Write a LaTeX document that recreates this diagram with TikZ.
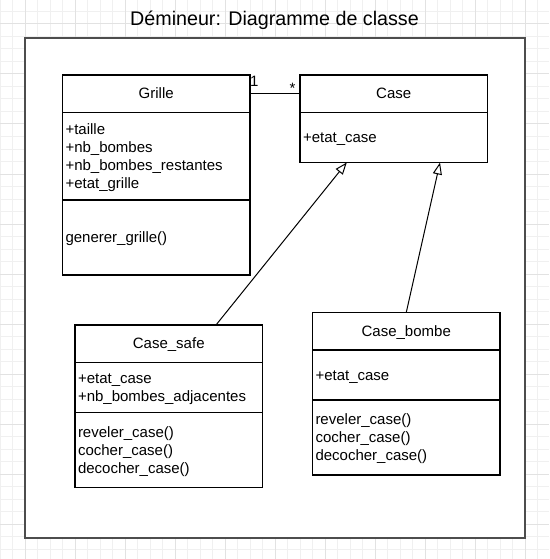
\documentclass[tikz,border=0pt]{standalone}
\usepackage{fontspec}
\setmainfont{Liberation Sans}
\usetikzlibrary{arrows.meta, calc, positioning}

\definecolor{gridminor}{HTML}{F0F0F0}
\definecolor{gridmajor}{HTML}{E2E2E2}
\definecolor{framegray}{HTML}{4D4D4D}

\newcommand{\linestrut}{\rule[-3.8pt]{0pt}{18pt}}

\tikzset{
    classbox/.style={draw, line width=1.2pt, fill=white, rectangle,
        minimum width=187.5pt, inner xsep=3pt, inner ysep=0pt, outer sep=0pt,
        text width=181.5pt, font=\fontsize{15}{18}\selectfont,
        execute at begin node=\linestrut, execute at end node=\linestrut},
    classhead/.style={classbox, align=center, minimum height=37.5pt},
    classpart/.style={classbox, align=left},
    inherit/.style={line width=1pt, -{Triangle[open, length=12pt, width=9pt, fill=white]}}
}

\begin{document}
\begin{tikzpicture}[x=1pt, y=-1pt]
    \useasboundingbox (0,0) rectangle (549,559);

    % Grid
    \foreach \x in {0,12.5,...,550}
        \draw[gridminor, line width=1pt] (\x,0) -- (\x,559);
    \foreach \y in {-1,11.5,...,560}
        \draw[gridminor, line width=1pt] (0,\y) -- (549,\y);
    \foreach \x in {25,75,...,525}
        \draw[gridmajor, line width=1pt] (\x,0) -- (\x,559);
    \foreach \y in {24,74,...,524}
        \draw[gridmajor, line width=1pt] (0,\y) -- (549,\y);

    % Frame and title
    \draw[framegray, fill=white, line width=2pt] (25,38) rectangle (525,538);
    \node[anchor=base, inner sep=0pt, font=\fontsize{19.7}{23}\selectfont] (title) at (274.5,25.5) {Démineur: Diagramme de classe};

    % Grille
    \node[classhead, anchor=north west] (grille) at (62.5,75) {Grille};
    \node[classpart, minimum height=87.5pt, below=0pt of grille] (grille attr) {+taille\\+nb\_bombes\\+nb\_bombes\_restantes\\+etat\_grille};
    \node[classpart, minimum height=75pt, below=0pt of grille attr] (grille meth) {generer\_grille()};

    % Case
    \node[classhead, anchor=north west] (case) at (300,75) {Case};
    \node[classpart, minimum height=50pt, below=0pt of case] (case attr) {+etat\_case};

    % Case_safe
    \node[classhead, anchor=north west] (safe) at (75,325) {Case\_safe};
    \node[classpart, minimum height=50pt, below=0pt of safe] (safe attr) {+etat\_case\\+nb\_bombes\_adjacentes};
    \node[classpart, minimum height=75pt, below=0pt of safe attr] (safe meth) {reveler\_case()\\cocher\_case()\\decocher\_case()};

    % Case_bombe
    \node[classhead, anchor=north west] (bombe) at (312.5,312.5) {Case\_bombe};
    \node[classpart, minimum height=50pt, below=0pt of bombe] (bombe attr) {+etat\_case};
    \node[classpart, minimum height=75pt, below=0pt of bombe attr] (bombe meth) {reveler\_case()\\cocher\_case()\\decocher\_case()};

    % Association
    \draw[line width=1.2pt] (grille.east) -- (case.west);
    \node[anchor=base west, inner sep=0pt, font=\fontsize{15}{18}\selectfont] (mult grille) at (250,87) {1};
    \node[anchor=base west, inner sep=0pt, font=\fontsize{15}{18}\selectfont] (mult case) at (289.5,93.5) {*};

    % Heritage
    \draw[inherit] ($(safe.north)+(47.25,0)$) -- ($(case attr.south)+(-47,0)$);
    \draw[inherit] (bombe.north) -- ($(case attr.south)+(46.25,0)$);
\end{tikzpicture}
\end{document}
